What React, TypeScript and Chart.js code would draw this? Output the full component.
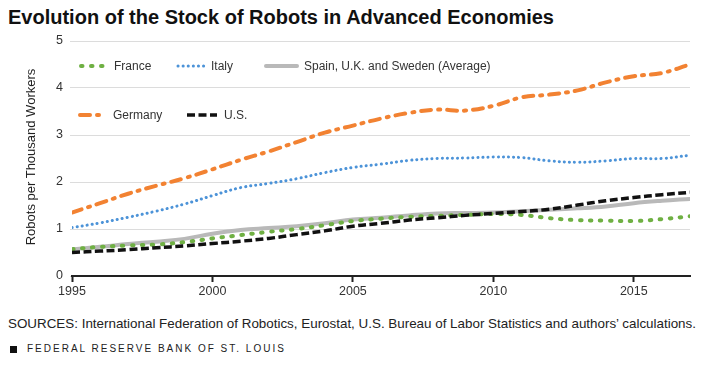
import React, { useEffect, useRef } from "react";
import { Chart, registerables } from "chart.js";

Chart.register(...registerables);

const years = [1995, 1996, 1997, 1998, 1999, 2000, 2001, 2002, 2003, 2004, 2005, 2006, 2007, 2008, 2009, 2010, 2011, 2012, 2013, 2014, 2015, 2016, 2017];
const germany = [1.35, 1.55, 1.75, 1.92, 2.08, 2.27, 2.47, 2.65, 2.85, 3.05, 3.2, 3.35, 3.47, 3.54, 3.52, 3.62, 3.8, 3.86, 3.95, 4.12, 4.25, 4.32, 4.5];
const italy = [1.03, 1.13, 1.25, 1.38, 1.53, 1.71, 1.88, 1.97, 2.07, 2.2, 2.31, 2.38, 2.46, 2.5, 2.51, 2.53, 2.52, 2.45, 2.42, 2.45, 2.5, 2.5, 2.57];
const spainUkSweden = [0.57, 0.62, 0.68, 0.73, 0.79, 0.9, 0.98, 1.02, 1.06, 1.12, 1.2, 1.24, 1.29, 1.33, 1.34, 1.35, 1.38, 1.41, 1.44, 1.48, 1.55, 1.6, 1.64];
const france = [0.57, 0.62, 0.65, 0.67, 0.72, 0.8, 0.87, 0.94, 1.0, 1.08, 1.17, 1.22, 1.26, 1.28, 1.3, 1.32, 1.3, 1.23, 1.19, 1.18, 1.17, 1.21, 1.27];
const us = [0.5, 0.53, 0.56, 0.6, 0.64, 0.69, 0.74, 0.8, 0.88, 0.96, 1.06, 1.12, 1.19, 1.24, 1.29, 1.33, 1.37, 1.42, 1.51, 1.6, 1.67, 1.73, 1.78];

const yTicks = [0, 1, 2, 3, 4, 5];
const xTicks = [1995, 2000, 2005, 2010, 2015];

const FONT = "'Liberation Sans', Arial, sans-serif";

const ORANGE = "#f28232";
const BLUE = "#4c93d8";
const GREEN = "#6fb043";
const BLACK = "#111111";
const GRAY = "#b9b9b9";

const styles: Record<string, { color: string; width: number; dash: number[]; cap: CanvasLineCap }> = {
  "U.S.": { color: BLACK, width: 3.5, dash: [8, 3.5], cap: "butt" },
  France: { color: GREEN, width: 4, dash: [1.5, 8.5], cap: "round" },
  Italy: { color: BLUE, width: 3, dash: [0.1, 5], cap: "round" },
  Germany: { color: ORANGE, width: 4, dash: [10, 7, 2, 7], cap: "round" },
  "Spain, U.K. and Sweden (Average)": { color: GRAY, width: 4, dash: [], cap: "round" },
};

const seriesList: [string, number[]][] = [
  ["U.S.", us],
  ["France", france],
  ["Italy", italy],
  ["Germany", germany],
  ["Spain, U.K. and Sweden (Average)", spainUkSweden],
];

const legendItems: { label: string; x: number; y: number; w: number }[] = [
  { label: "France", x: 73, y: 35, w: 26 },
  { label: "Italy", x: 170, y: 35, w: 26 },
  { label: "Spain, U.K. and Sweden (Average)", x: 258, y: 35, w: 31 },
  { label: "Germany", x: 72, y: 84, w: 26 },
  { label: "U.S.", x: 179, y: 84, w: 30 },
];

export default function App() {
  const ref = useRef<HTMLCanvasElement | null>(null);

  useEffect(() => {
    if (!ref.current) return;
    const legendPlugin = {
      id: "customLegend",
      afterDraw(chart: any) {
        const ctx = chart.ctx as CanvasRenderingContext2D;
        ctx.save();
        for (const it of legendItems) {
          const s = styles[it.label];
          ctx.beginPath();
          ctx.strokeStyle = s.color;
          ctx.lineWidth = s.width;
          ctx.lineCap = s.cap;
          ctx.setLineDash(s.dash);
          ctx.moveTo(it.x, it.y);
          ctx.lineTo(it.x + it.w, it.y);
          ctx.stroke();
          ctx.setLineDash([]);
          ctx.fillStyle = "#333";
          ctx.font = `12px ${FONT}`;
          ctx.textBaseline = "middle";
          ctx.textAlign = "left";
          ctx.fillText(it.label, it.x + it.w + 7, it.y + 1);
        }
        ctx.restore();
      },
    };

    const chart = new Chart(ref.current, {
      type: "line",
      data: {
        datasets: seriesList.map(([label, vals]) => {
          const s = styles[label];
          return {
            label,
            data: years.map((yr, i) => ({ x: yr, y: vals[i] })),
            borderColor: s.color,
            borderWidth: s.width,
            borderDash: s.dash,
            borderCapStyle: s.cap,
            pointRadius: 0,
            tension: 0.4,
            fill: false,
          };
        }),
      },
      options: {
        animation: false,
        responsive: false,
        maintainAspectRatio: false,
        layout: { padding: { left: 0, right: 7, top: 10, bottom: 0 } },
        plugins: { legend: { display: false }, tooltip: { enabled: false }, title: { display: false } },
        scales: {
          x: {
            type: "linear",
            min: 1995,
            max: 2017,
            afterBuildTicks: (scale: any) => {
              scale.ticks = xTicks.map((v) => ({ value: v }));
            },
            afterFit: (scale: any) => {
              scale.height = 35;
              scale.paddingLeft = 0;
              scale.paddingRight = 0;
            },
            ticks: {
              callback: (v: any) => String(v),
              color: "#333",
              font: { family: FONT, size: 12.5 },
              padding: 2,
              maxRotation: 0,
            },
            grid: {
              drawOnChartArea: false,
              drawTicks: true,
              tickLength: 6,
              tickColor: "#222",
              tickWidth: 2,
            },
            border: { display: true, color: "#222", width: 2 },
          },
          y: {
            min: 0,
            max: 5,
            afterBuildTicks: (scale: any) => {
              scale.ticks = yTicks.map((v) => ({ value: v }));
            },
            afterFit: (scale: any) => {
              scale.width = 64;
              scale.paddingTop = 0;
              scale.paddingBottom = 0;
            },
            ticks: {
              color: "#333",
              font: { family: FONT, size: 12.5 },
              padding: 7,
            },
            grid: {
              color: "#dcdcdc",
              lineWidth: 1,
              drawTicks: true,
              tickLength: 2,
            },
            border: { display: false },
          },
        },
      },
      plugins: [legendPlugin],
    } as any);
    return () => chart.destroy();
  }, []);

  return (
    <div style={{ position: "relative", width: 689, height: 351, fontFamily: FONT }}>
      <div
        style={{
          position: "absolute",
          left: 0,
          top: -3,
          fontSize: 20,
          fontWeight: 700,
          lineHeight: "24px",
          color: "#111",
          whiteSpace: "nowrap",
        }}
      >
        Evolution of the Stock of Robots in Advanced Economies
      </div>
      <canvas ref={ref} width={689} height={280} style={{ position: "absolute", left: 0, top: 23, width: 689, height: 280 }} />
      <div
        style={{
          position: "absolute",
          left: 23 - 100,
          top: 149 - 8,
          width: 200,
          height: 16,
          lineHeight: "16px",
          fontSize: 13,
          color: "#222",
          textAlign: "center",
          whiteSpace: "nowrap",
          transform: "rotate(-90deg)",
        }}
      >
        Robots per Thousand Workers
      </div>
      <div
        style={{
          position: "absolute",
          left: 0,
          top: 308,
          fontSize: 13.4,
          lineHeight: "16px",
          color: "#222",
          whiteSpace: "nowrap",
        }}
      >
        SOURCES: International Federation of Robotics, Eurostat, U.S. Bureau of Labor Statistics and authors’ calculations.
      </div>
      <div
        style={{
          position: "absolute",
          left: 0,
          top: 333,
          fontSize: 10,
          lineHeight: "16px",
          color: "#222",
          letterSpacing: "2px",
          whiteSpace: "nowrap",
          display: "flex",
          alignItems: "center",
        }}
      >
        <span style={{ display: "inline-block", width: 7, height: 7, background: "#111", marginLeft: 2, marginRight: 10 }} />
        FEDERAL RESERVE BANK OF ST. LOUIS
      </div>
    </div>
  );
}
